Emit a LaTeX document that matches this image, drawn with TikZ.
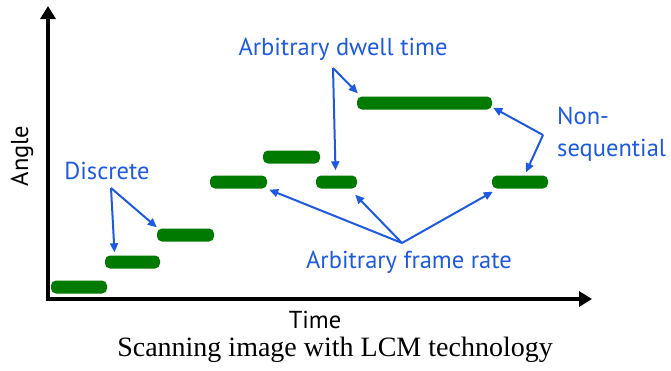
\documentclass[tikz,border=0pt]{standalone}
\usepackage{fontspec}
\setmainfont{Liberation Serif}
\newfontfamily\labelfont{PT Sans}
\usetikzlibrary{arrows.meta}
\definecolor{bargreen}{RGB}{0,122,0}
\definecolor{noteblue}{RGB}{30,90,225}
\tikzset{
	bar_style/.style = {shape=rectangle, rounded corners=5pt, fill=bargreen, minimum height=13pt, inner sep=0pt},
	note_style/.style = {text=noteblue, inner sep=0pt, font=\labelfont\fontsize{24.5}{32}\selectfont},
	axis_style/.style = {draw=black, line width=4pt, -{Triangle[length=13pt,width=15pt]}}
}
\begin{document}
\begin{tikzpicture}[
    x=1pt, y=-1pt,
    edge_style/.style={
        draw=noteblue,
        line width=2pt,
        -{Triangle[length=9pt,width=8pt]}
        }]
	\useasboundingbox (0,0) rectangle (671,370);

	% axes
	\coordinate (o) at (48,299);
	\coordinate (ytip) at (48,6);
	\coordinate (xtip) at (592,299);
	\draw[axis_style] ([yshift=-2pt]o) -- (ytip);
	\draw[axis_style] ([xshift=-2pt]o) -- (xtip);
	\node[font=\labelfont\fontsize{24.5}{28}\selectfont, inner sep=0pt, rotate=90] (angle) at (22,156) {Angle};
	\node[font=\labelfont\fontsize{24.5}{28}\selectfont, inner sep=0pt] (time) at (315,320) {Time};

	% scan positions
	\node[bar_style, minimum width=56pt] (b1) at (79,287) {};
	\node[bar_style, minimum width=55pt] (b2) at (132.5,262) {};
	\node[bar_style, minimum width=57pt] (b3) at (185.5,235) {};
	\node[bar_style, minimum width=57pt] (b4) at (238.5,182) {};
	\node[bar_style, minimum width=57pt] (b5) at (291.5,157) {};
	\node[bar_style, minimum width=41pt] (b6) at (336.5,182) {};
	\node[bar_style, minimum width=135pt] (b7) at (424.5,103) {};
	\node[bar_style, minimum width=56pt] (b8) at (520,182) {};

	% notes
	\node[note_style] (disc) at (107,171) {Discrete};
	\node[note_style] (dwell) at (343,49) {Arbitrary dwell time};
	\node[note_style] (frame) at (409,262) {Arbitrary frame rate};
	\node[note_style, anchor=west, align=left] (nonseq) at (557,134) {Non-\\sequential};

	\coordinate (disc_split) at (111,188);
	\coordinate (dwell_split) at (333,68);
	\coordinate (nonseq_split) at (543,135);
	\coordinate (frame_split) at (402,243);

	\draw[edge_style] (disc_split) -- ([xshift=-18pt,yshift=3pt]b2.north);
	\draw[edge_style] (disc_split) -- ([yshift=1pt]b3.north west);
	\draw[edge_style] (dwell_split) -- ([xshift=-1pt,yshift=5pt]b6.north);
	\draw[edge_style] (dwell_split) -- ([xshift=1pt,yshift=3pt]b7.north west);
	\draw[edge_style] (nonseq_split) -- ([xshift=1pt,yshift=2pt]b7.south east);
	\draw[edge_style] (nonseq_split) -- ([xshift=6pt,yshift=3pt]b8.north);
	\draw[edge_style] (frame_split) -- ([xshift=2pt,yshift=-1pt]b4.south east);
	\draw[edge_style] (frame_split) -- ([xshift=-2pt,yshift=-6pt]b6.south east);
	\draw[edge_style] (frame_split) -- ([xshift=1pt,yshift=-3pt]b8.south west);

	% caption
	\node[font=\fontsize{28}{32}\selectfont, inner sep=0pt] (caption) at (335,350) {Scanning image with LCM technology};
\end{tikzpicture}
\end{document}
